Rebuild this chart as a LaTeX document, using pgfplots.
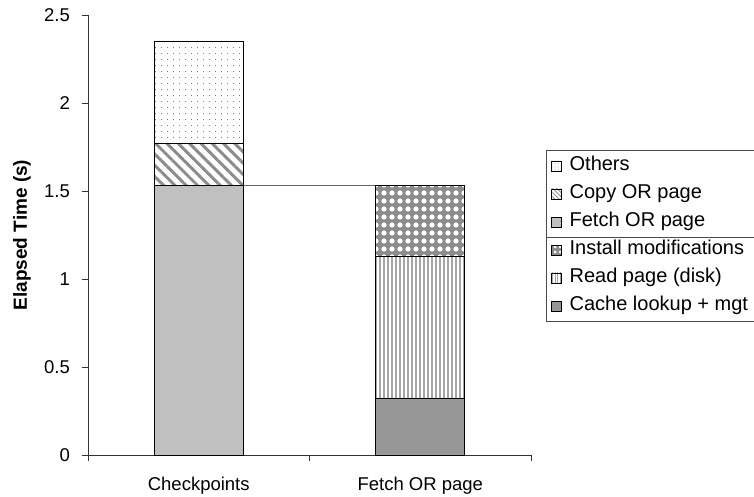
\documentclass[border=0pt]{standalone}
\usepackage{fontspec}
\setmainfont{Liberation Sans}
\usepackage{pgfplots}
\pgfplotsset{compat=1.18}
\usetikzlibrary{patterns.meta}
\definecolor{fetchgray}{RGB}{192,192,192}
\definecolor{cachegray}{RGB}{150,150,150}
\definecolor{patgray}{RGB}{140,140,140}
\begin{document}
\fontsize{18bp}{21bp}\selectfont
\begin{tikzpicture}[x=1bp,y=1bp]
\begin{axis}[
  at={(0,0)}, anchor=south west,
  scale only axis,
  width=443bp, height=440bp,
  xmin=-0.5, xmax=1.5,
  ymin=0, ymax=2.5,
  ytick={0,0.5,1,1.5,2,2.5},
  xtick={0,1},
  xticklabels={Checkpoints,Fetch OR page},
  minor xtick={-0.5,0.5,1.5},
  major x tick style={draw=none},
  tick align=outside,
  tick pos=left,
  major tick length=6bp,
  minor tick length=6bp,
  axis lines*=left,
  axis line style={black!80, line width=0.8bp},
  every tick/.style={black!80, line width=0.8bp},
  /pgf/number format/assume math mode=true,
  tick label style={font=\fontsize{18.5bp}{21bp}\selectfont},
  yticklabel style={xshift=-6bp},
  xticklabel style={anchor=base, yshift=-30bp},
  ylabel={\bfseries Elapsed Time (s)},
  ylabel style={at={(axis description cs:-0.149,0.5)}, anchor=center, font=\fontsize{19bp}{21bp}\selectfont},
  stack plots=y,
  clip=false,
  legend style={
    at={(rel axis cs:1.033,0.693)}, anchor=north west,
    draw=black!70, line width=0.8bp, fill=none,
    font=\fontsize{20bp}{22bp}\selectfont,
    inner xsep=5bp, inner ysep=5bp,
    row sep=7bp, column sep=6bp,
    nodes={inner xsep=2bp, inner ysep=2bp, text height=13bp, text depth=4bp},
  },
  legend cell align=left,
  legend image code/.code={\draw[#1, line width=0.6bp] (0bp,-5bp) rectangle (10bp,5bp);},
  barstyle/.style={ybar, bar width=89bp, bar shift=0pt, draw=black, line width=0.8bp, forget plot},
]
% stacked series (values in seconds)
\addplot[barstyle, fill=fetchgray] coordinates {(0,1.53) (1,0)};
\addplot[barstyle, fill=cachegray] coordinates {(0,0) (1,0.32)};
\addplot[barstyle, pattern={Lines[angle=-45,distance=8bp,line width=3bp]}, pattern color=patgray] coordinates {(0,0.24) (1,0)};
\addplot[barstyle, pattern={Lines[angle=90,distance=4bp,line width=1.6bp]}, pattern color=black!35] coordinates {(0,0) (1,0.81)};
\addplot[barstyle, pattern={Dots[distance=6bp,radius=0.6bp]}, pattern color=black!55] coordinates {(0,0.58) (1,0)};
\addplot[barstyle, fill=patgray, postaction={pattern={Dots[distance=8bp,radius=2.6bp]}, pattern color=white}] coordinates {(0,0) (1,0.40)};
% series line between bars
\addplot[forget plot, stack plots=false, sharp plot, no marks, black!60, line width=1bp] coordinates {(0.2,1.53) (0.8,1.53)};
% legend
\addlegendimage{draw=black, pattern={Dots[distance=3bp,radius=0.5bp]}, pattern color=black!55}
\addlegendentry{Others}
\addlegendimage{draw=black, pattern={Lines[angle=-45,distance=3bp,line width=1bp]}, pattern color=patgray}
\addlegendentry{Copy OR page}
\addlegendimage{draw=black, fill=fetchgray}
\addlegendentry{Fetch OR page}
\addlegendimage{draw=black, fill=patgray, postaction={pattern={Dots[distance=5bp,radius=1.5bp]}, pattern color=white}}
\addlegendentry{Install modifications}
\addlegendimage{draw=black, pattern={Lines[angle=90,distance=2.5bp,line width=1bp]}, pattern color=black!35}
\addlegendentry{Read page (disk)}
\addlegendimage{draw=black, fill=cachegray}
\addlegendentry{Cache lookup + mgt}
\draw[black!70, line width=0.8bp] (rel axis cs:1.033,0.4955) -- (rel axis cs:1.6,0.4955);
\end{axis}
\pgfresetboundingbox
\path (-88,-42) rectangle (666,455);
\end{tikzpicture}
\end{document}
